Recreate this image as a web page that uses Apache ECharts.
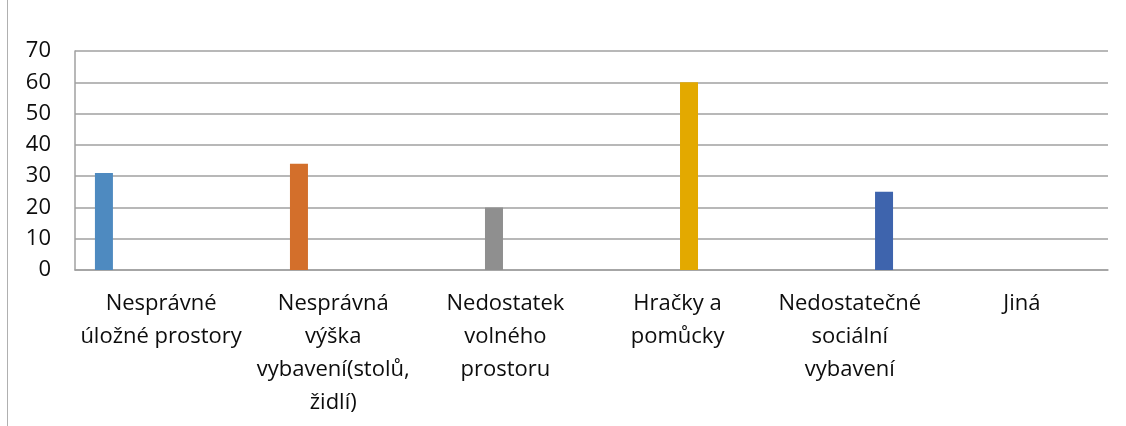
<!DOCTYPE html>
<html>
<head>
<meta charset="utf-8">
<script src="https://cdn.jsdelivr.net/npm/echarts@6/dist/echarts.min.js"></script>
<style>
html,body{margin:0;padding:0;background:#fff;}
#chart{width:1126px;height:426px;}
</style>
</head>
<body>
<div id="chart"></div>
<script>
const categories = [
  "Nesprávné\núložné prostory",
  "Nesprávná\nvýška\nvybavení(stolů,\nžidlí)",
  "Nedostatek\nvolného\nprostoru",
  "Hračky a\npomůcky",
  "Nedostatečné\nsociální\nvybavení",
  "Jiná"
];
const values = [31, 34, 20, 60, 25, 0];
const colors = ["#4e8ac0", "#d36f2b", "#8f8f8f", "#e3a900", "#3e64ad", "#5f9a3b"];
const yMin = 0, yMax = 70, yStep = 10;

const FONT = "'Open Sans', 'Noto Sans', sans-serif";
const series = categories.map((c, i) => ({
  type: 'bar',
  name: c,
  data: categories.map((_, j) => (j === i ? values[i] : null)),
  barWidth: 18,
  barGap: '27%',
  itemStyle: { color: colors[i] },
  silent: true
}));

const chart = echarts.init(document.getElementById('chart'), null, { renderer: 'canvas' });
chart.setOption({
  animation: false,
  backgroundColor: '#ffffff',
  grid: { left: 75, right: 18, top: 51, bottom: 156, containLabel: false },
  xAxis: {
    type: 'category',
    data: categories,
    axisLine: { show: true, lineStyle: { color: '#a0a0a0', width: 1.5 } },
    axisTick: { show: false },
    axisLabel: {
      interval: 0,
      margin: 17,
      color: '#0d0d0d',
      fontFamily: FONT,
      fontSize: 22,
      lineHeight: 33,
      align: 'center',
      overflow: 'none'
    }
  },
  yAxis: {
    type: 'value',
    min: yMin, max: yMax, interval: yStep,
    axisLine: { show: true, lineStyle: { color: '#a0a0a0', width: 1.5 } },
    axisTick: { show: false },
    splitLine: { show: true, lineStyle: { color: '#a0a0a0', width: 1.5 } },
    axisLabel: {
      margin: 24,
      color: '#0d0d0d',
      fontFamily: FONT,
      fontSize: 22
    }
  },
  graphic: [
    { type: 'line', shape: { x1: 7.5, y1: 0, x2: 7.5, y2: 426 }, style: { stroke: '#b0b0b0', lineWidth: 1 } }
  ],
  series: series
});
</script>
</body>
</html>
